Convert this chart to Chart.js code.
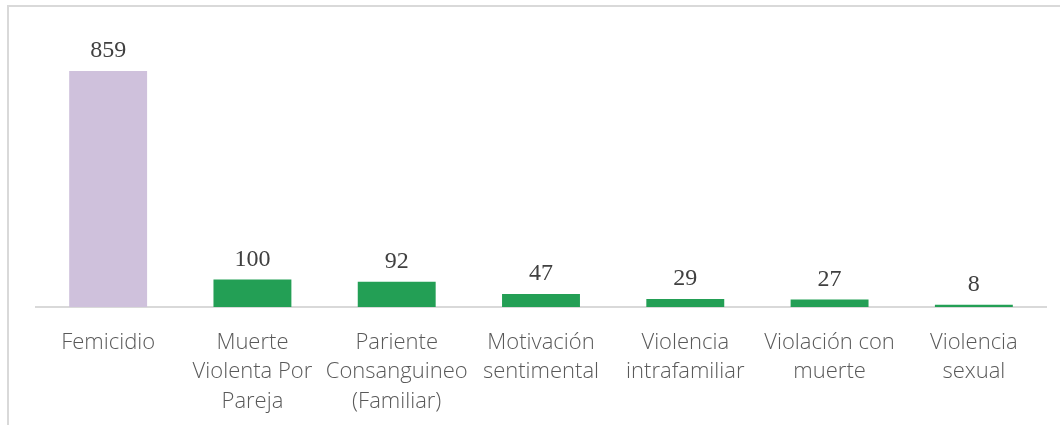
<!DOCTYPE html>
<html>
<head>
<meta charset="utf-8">
<script src="https://cdn.jsdelivr.net/npm/chart.js@4"></script>
<style>
  html, body { margin: 0; padding: 0; background: #fff; }
  #wrap { position: relative; width: 1060px; height: 425px; overflow: hidden; }
  #frame { position: absolute; left: 7px; top: 5px; width: 1100px; height: 500px;
           border-left: 2px solid #d9d9d9; border-top: 2px solid #d9d9d9; }
  #grafico { position: absolute; left: 0; top: 0; }
</style>
</head>
<body>
<div id="wrap">
  <div id="frame"></div>
  <canvas id="grafico" width="1060" height="425"></canvas>
</div>
<script>
// categorias y valores
const categorias = [
  ['Femicidio'],
  ['Muerte', 'Violenta Por', 'Pareja'],
  ['Pariente', 'Consanguineo', '(Familiar)'],
  ['Motivación', 'sentimental'],
  ['Violencia', 'intrafamiliar'],
  ['Violación con', 'muerte'],
  ['Violencia', 'sexual']
];
const valores = [859, 100, 92, 47, 29, 27, 8];
const coloresBarras = ['#cfc1dc', '#239f55', '#239f55', '#239f55', '#239f55', '#239f55', '#239f55'];

// Etiquetas de valor encima de cada barra
const etiquetasValor = {
  id: 'etiquetasValor',
  afterDatasetsDraw(chart) {
    const ctx = chart.ctx;
    const meta = chart.getDatasetMeta(0);
    ctx.save();
    ctx.font = "24px 'Liberation Serif', serif";
    ctx.fillStyle = '#404040';
    ctx.textAlign = 'center';
    ctx.textBaseline = 'alphabetic';
    meta.data.forEach((bar, i) => {
      ctx.fillText(String(valores[i]), bar.x, bar.y - 14);
    });
    ctx.restore();
  }
};

new Chart(document.getElementById('grafico'), {
  type: 'bar',
  data: {
    labels: categorias,
    datasets: [{
      data: valores,
      backgroundColor: coloresBarras,
      borderWidth: 0,
      barPercentage: 0.54,
      categoryPercentage: 1
    }]
  },
  options: {
    responsive: false,
    animation: false,
    layout: { padding: { left: 36, right: 14, top: 20, bottom: 0 } },
    plugins: { legend: { display: false }, tooltip: { enabled: false } },
    scales: {
      x: {
        grid: { display: false, drawTicks: false },
        border: { display: true, color: '#d9d9d9', width: 2 },
        ticks: {
          color: '#595959',
          padding: 21,
          maxRotation: 0,
          autoSkip: false,
          font: { family: "'Open Sans', sans-serif", size: 22, weight: '300', lineHeight: 1.34 }
        },
        afterFit(scale) { scale.height = 118; }
      },
      y: {
        display: false,
        min: 0,
        max: 1045
      }
    }
  },
  plugins: [etiquetasValor]
});
</script>
</body>
</html>
